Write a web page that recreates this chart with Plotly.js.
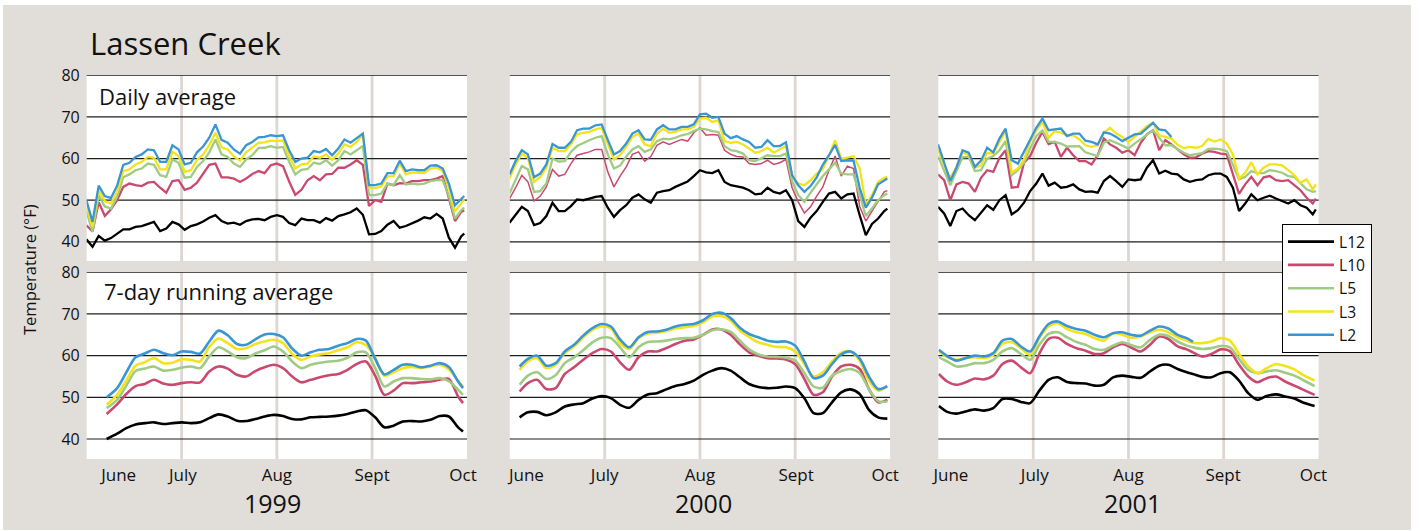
<!DOCTYPE html>
<html><head><meta charset="utf-8">
<script src="https://cdn.plot.ly/plotly-3.0.1.min.js"></script>
<style>
html,body{margin:0;padding:0;background:#fff;}
#wrap{position:relative;width:1422px;height:531px;}
#chart{width:1422px;height:531px;}
.edge{position:absolute;background:#fff;pointer-events:none;z-index:10;}
</style>
</head><body><div id="wrap"><div id="chart"></div>
<div class="edge" style="left:0;top:0;width:1422px;height:5px;"></div>
<div class="edge" style="left:0;top:0;width:3px;height:531px;"></div>
<div class="edge" style="left:1411px;top:0;width:11px;height:531px;"></div>
<div class="edge" style="left:0;top:530px;width:1422px;height:1px;"></div>
</div>
<script>
// ---- categories / labels ----
const seriesNames = ['L12','L10','L5','L3','L2'];
const monthLabels = ['June','July','Aug','Sept','Oct'];
const yearLabels = ['1999','2000','2001'];
const yTicks = [40,50,60,70,80];
// x values are days counted from June 1 (0 = June 1, 30 = July 1, 61 = Aug 1, 92 = Sept 1, 122 = Oct 1)

// ---- Daily average ----
const dailyDays = [-1,1,3,5,7,9,11,13,15,17,19,21,23,25,27,29,31,33,35,37,39,41,43,45,47,49,51,53,55,57,59,61,63,65,67,69,71,73,75,77,79,81,83,85,87,89,91,93,95,97,99,101,103,105,107,109,111,113,115,117,119,121,122];

const d99_L12 = [40.6,38.8,41.4,40.3,40.9,41.9,43,43,43.6,43.8,44.3,44.8,42.6,43.2,44.8,44.2,42.9,43.8,44.2,44.9,45.8,46.4,45,44.4,44.6,44.1,45,45.4,45.5,45.2,46,46.4,46,44.5,44,45.6,45.2,45.2,44.6,45.7,45.1,46.2,46.6,47.1,48,46.5,41.8,41.9,42.6,44.1,45,43.4,43.8,44.4,45.1,45.9,45.6,46.7,45.6,41,38.6,41.3,42];
const d99_L10 = [44,42.5,49.5,46.2,47.8,50,53.2,54,53.6,53.4,54.2,54.4,53,51.8,54.6,54.8,52.5,53,54.2,56.2,58.5,58.8,55.5,55.5,55.2,54.4,55.2,56.3,57,56.5,58.4,58.8,58.2,54.5,51.3,52.5,54.8,55.8,54.8,56.2,56.3,57.8,57.8,58.6,59.6,58.5,48.6,50,49.6,54,53.6,54.1,54,54.6,54.6,54.8,54.8,55.2,55.8,50.5,45,47.2,47.6];
const d99_L5 = [47.4,42.4,51.2,48.5,48,50.8,55.5,56.2,57.2,57.6,58.8,58.5,56,55.6,59.8,59,55.4,55.6,58,59.4,61.5,64.6,61,60.4,58.8,58,59.8,60.8,62.5,62.6,63,62.6,62.8,59.2,56.2,57.3,57.5,59,58.7,59.6,58.3,59.6,61.8,61,62,63,51.2,51.2,51.6,54,53.6,56,53.8,54,53.8,54,54.6,54.8,54.8,51,45.6,47.6,48.2];
const d99_L3 = [48.4,43.6,52.5,49.8,49.2,52,57,57.4,58.6,59.2,60.4,60.2,57.4,57.4,61.6,60.6,56.8,57.2,59.7,61,63.2,66.2,62.7,62.2,60.5,59.5,61.5,62.6,63.8,63.9,64.3,64.2,64.4,60.6,57.6,58.6,58.8,60.5,60.2,61,59.7,61.2,63.4,62.8,64,65.8,53,52.9,53.3,55.7,55.8,58.8,56.2,56.7,56.6,56.5,57.6,57.8,57,53,47.3,49.4,50.2];
const d99_L2 = [50,44.8,53.5,51,50.5,53.5,58.5,59,60.4,61,62.2,62,59.2,59.2,63.2,62.2,58.6,59,61.5,62.9,65,68.2,64.5,63.8,62.2,61.2,63.2,64,65.1,65.2,65.6,65.4,65.6,62,59.2,60,60.2,61.8,61.5,62.3,60.8,62.4,64.6,63.8,64.9,66,53.6,53.6,54,56.5,56.5,59.5,57,57.4,57.2,57.2,58.3,58.4,57.6,54,48.8,50.2,51];

const d00_L12 = [44.6,46.6,48.4,47.4,44,44.5,46.2,49.4,47.4,47.4,48.6,50.2,50,50.4,50.8,51,48.2,46,47.6,48.8,50.6,51.4,50.2,49.4,51.8,52.2,52.4,53.2,53.8,54.5,55.8,57.2,56.7,56.5,57.2,54.4,53.6,53.3,53,52.4,51.4,51.6,53,52,51.6,52.4,50,45,43.6,45.8,47.4,49.6,51.6,52,50.4,51.4,51.6,46.4,41.6,44.3,45.6,47.4,48];
const d00_L10 = [50.4,53,56,54.4,49.8,51,53.2,57.4,55.8,56.2,58.8,60.8,61.2,61.6,62.2,62.2,56.8,53.2,55.8,58,61,61.6,59.4,60.5,63.2,64,63.4,64,64.6,64.2,66.2,67.4,65.6,65.8,65.6,62,61,60.5,60.4,58.8,58.6,58.8,59.6,58.6,59,59.8,53,49.6,46.9,48.4,51,53.2,57.2,60.6,55.8,58.2,57.6,48.5,45,47.4,49.6,52,52.3];
const d00_L5 = [51.6,55,58.2,57.4,52,52.2,54,60,59.3,59.4,61.6,63,63.8,64.4,65,65.4,61,57.6,58.3,60.5,62.2,63,61.6,62.2,64.2,64.8,64.6,65,65.6,65.9,66.6,67.2,67,66.6,66.4,63,62,61.8,61.2,59.6,59.4,60.2,60.8,60.6,60.6,61.2,54.5,51.2,49.6,51.8,53.8,55.8,57.4,59,56.4,56.2,56.2,51.2,46.2,48,50,51.2,51.6];
const d00_L3 = [55.2,58.6,61.2,60.2,54.4,55.6,57.8,62.6,61.8,61.8,63.4,65.8,66.2,66.4,67,67.4,63.6,59.8,60.8,62.8,65.2,66,63.4,63,66,67.2,66.2,66.4,67,67,67.6,69.6,69.8,68.8,69.2,64.2,63.8,64,63.4,62.4,61.4,61.8,62.6,61.4,62.2,63,55.8,54,53.6,54.8,56.4,57.5,60.6,64.4,60,60.2,60.6,57.6,49,51.2,54.4,55.4,55.6];
const d00_L2 = [56.2,59.4,62,61,55.5,56.4,58.6,63.5,62.6,62.6,64,66.8,67.2,67.2,68,68.2,64.5,61,61.8,63.6,66,66.8,64.6,64.5,67,68,67,67,67.6,67.6,68.2,70.6,70.8,69.8,70,66,64.9,65.4,64.6,64,62.6,62.8,64.4,63,63,63.9,56,53.6,52,53.4,55.5,58.5,60.8,63.3,59.4,59.6,59.5,53,48.2,50.6,53.8,54.6,55.2];

const d01_L12 = [48.4,46.8,43.8,47.4,48,46.4,45.2,47,48.8,47.7,50,51.2,46.6,47.6,49.4,52.2,54,56.4,53.5,54.2,53,53.2,53.8,52.6,52,52.1,51.8,54.6,55.8,54.6,53.2,55,54.8,55,57.8,59.6,56.4,57.1,56.4,56.2,55,54.4,54.8,55,56,56.4,56.4,55.6,53,47.4,49.2,51.4,50,50.6,51.1,50.4,49.8,49.2,50,48.8,48.2,46.6,47.8];
const d01_L10 = [56.2,54.8,50,53.8,54.4,54,52,55.4,57.2,56.8,60.2,62,53,53.2,59,60.6,63.8,66.4,63.5,64,60.4,62.6,60.8,59.4,59.4,58.6,60.8,64.8,63.4,62.6,61.4,62,60.8,63.8,65.8,66.8,62,64.4,63.4,62.1,61,60.2,60.3,61.2,61.8,61.6,61.2,61,56,51.5,53.8,55.6,53.6,55.5,55.8,54.8,54.6,54.8,53.6,52.4,50.6,49.2,50.4];
const d01_L5 = [60.6,57,53.6,57,60.3,60.4,57,57.2,60,60.6,62,64.2,56,57.2,59,62.4,65.4,66.8,64,64,63.6,62.9,63,63,61.5,61,60.6,63.8,64.4,63.8,63,62.4,63.6,64.6,65.6,66.8,65,63.2,63.2,62.2,61.4,60.8,61,61.3,62.3,62.4,62.2,61.8,58.5,55,55.6,57,56.5,56.5,57.2,57,56.6,55.8,55.6,54.2,52.6,52,52.2];
const d01_L3 = [62.2,58.4,55.4,58,61.5,60.8,57.8,58.4,61.4,61.2,64,66.6,56.6,57.6,59.8,64,66.8,68.8,65,66.6,66.2,65.6,65.6,64.6,63.2,62.8,63.2,66.2,67.4,66,65.2,64,65.2,66.6,67.8,68.6,65.6,65.2,64.8,63.3,62.5,62.8,62.6,63,64.7,64.1,64.6,63.6,61,55.2,56.6,59.1,56.2,57.8,58.6,58.6,58.4,57.2,56,54.2,55,52.6,53.8];
const d01_L2 = [63.5,58.8,54.6,57.8,62,61.4,58,59.5,62.6,61.5,64.8,67.2,59.6,58.8,61.8,64.8,67.4,69.6,66.8,67,67.2,65.4,66,66,64.3,64,63.4,66.3,66,65.2,64.2,65,65.8,66,67.2,68.6,67,66.8,65.2];

// ---- 7-day running average ----
const runDays99 = [5.6,9,12,15,18,21,24,27,30,33,36,39,42,45,48,51,54,57,60,63,66,69,72,75,78,81,84,87,90,93,96,99,102,105,108,111,114,117,120,121.6];
const r99_L12 = [40,41.3,42.6,43.5,43.8,44,43.6,43.8,44,43.8,44,45,45.9,45.4,44.4,44.3,44.8,45.4,45.8,45.5,44.8,44.7,45.2,45.3,45.4,45.6,46,46.6,46.9,45.2,42.8,43.2,44.2,44.3,44.2,44.6,45.5,45.4,42.8,41.8];
const r99_L10 = [46,48.3,50.8,52.7,53.2,54.2,53.3,53,53.4,53.6,53.6,56.2,57.4,56.9,55.4,55,56.3,57.2,57.8,57,55,53.6,54.2,54.8,55.3,55.6,56.6,58,58.6,55.2,50.6,51.6,53.4,53.4,53.6,53.8,54.2,54.4,50.2,48.6];
const r99_L5 = [47.4,49.4,52.8,56.3,56.9,57.4,56.4,56.6,57.1,57.4,57,59.8,62,61,59.6,59.4,60.5,61.3,62.2,61,58.6,57,57.8,58.3,58.6,58.8,59.5,60.8,60.8,57,52.6,53.8,54.6,54.6,54.4,54.3,54.6,53.9,51.8,50.6];
const r99_L3 = [48.2,50.6,54,57.6,58.4,59.4,58.2,58.3,59.1,59,58.6,62.1,64.1,63,61.6,61.8,62.8,63.4,63.8,63,60.4,59,59.8,60.3,60.6,61.3,62,63.2,62.5,59.5,55.2,56,57,57.3,57,57.4,57.8,56.7,54,52.6];
const r99_L2 = [50,52.2,56,59.6,60.5,61.4,60.6,60.1,61,60.9,60.5,63.4,66,64.9,62.8,62.6,63.9,65.1,65.2,64.4,61.7,60,60.8,61.4,61.6,62.4,63,64,63.6,59.2,55.5,56.6,57.8,57.8,57.2,57.6,58.2,57.3,53.8,52.2];

const runDays00 = [2.3,5,8,11,14,17,20,23,26,29,32,35,38,41,44,47,50,53,56,59,62,65,68,71,74,77,80,83,86,89,92,95,98,101,104,107,110,113,116,119,122];
const r00_L12 = [45.2,46.4,46.5,45.7,46.4,47.8,48.3,48.6,49.7,50.3,49.8,48.2,47.5,49.4,50.7,51,51.9,52.7,53.2,54,55.4,56.4,57,56.4,54.8,53.2,52.5,52.2,52.3,52.6,52.2,49.8,46.2,46.2,48.8,51.2,51.9,50.8,47,45.2,44.9];
const r00_L10 = [51.4,53.4,54.2,52,52.2,55.6,57.2,59,60.6,61.6,61,58.4,56.6,59.6,61,61,61.8,62.8,63.6,63.9,65,66.3,66.3,65,62.7,60.8,60,59.4,59.3,59.1,58,54.4,50.6,51.2,55,57.4,57.8,56.8,52,48.8,49.4];
const r00_L5 = [53,55.2,56,54.4,55.3,58.2,59.6,61.3,63.2,64.3,64.2,62,59.6,62,63.3,63.4,63.6,64,64.2,64.3,65,66.1,66.3,65.7,63.6,61.5,60.3,59.8,59.7,59.5,58.8,55.8,52.6,52.3,55.2,56.3,56.8,55.8,52,49.1,49];
const r00_L3 = [56.6,58.6,59.4,57,57.8,60.6,62.2,64.4,66.2,67,66.6,63,61.6,64.2,65.3,65.5,65.9,66.5,66.8,67.1,68,69.4,69.5,68.4,66,64.5,63.2,62.6,62.1,62,61,58,55,56,58.6,60.7,61,58.8,54,51.6,52.6];
const r00_L2 = [57.4,59.2,60,57.6,58.2,61,62.6,64.8,66.6,67.6,67,63.9,62,64.4,65.7,65.8,66.2,67,67.4,67.6,68.5,70,70.3,69,66.7,65.2,64.4,63.6,63.3,63.4,62.4,58.6,54.6,55.2,58,60.3,61,59.3,55,52,52.7];

const runDays01 = [-0.7,2,5,8,11,14,17,20,23,26,29,32,35,38,41,44,47,50,53,56,59,62,65,68,71,74,77,80,82,85,88,91,94,97,100,103,106,109,112,115,118,121.6];
const r01_L12 = [47.9,46.5,46.1,46.6,47.1,46.8,47.4,49.6,49.6,48.9,48.6,51.6,54.2,54.8,53.7,53.4,53.3,52.8,53,54.8,55.2,54.9,54.7,56.2,57.6,57.8,56.8,56,55.6,54.9,54.8,55.8,56,54,51,49.4,50.3,50.7,50.2,49.7,48.7,47.9];
const r01_L10 = [55.6,53.8,53,53.6,54.5,54.3,55.2,58,58.8,57.2,55.8,60.5,64,64.3,62.8,61.8,61.2,60.4,60.6,62,62.8,61.9,61,62.6,64.6,64,62.2,61.5,60.8,59.8,60.4,61.5,61.1,57.8,55,53.6,54.6,55,53.8,52.8,51.8,50.6];
const r01_L5 = [59.6,58.6,57.4,57.6,58.2,58.2,59,61,61.8,60.4,59,62.6,65.2,65.6,64.4,63.3,62.6,61.6,61.4,62.4,63.2,62.5,62,63.8,65,64.7,63.4,62.4,62,61.6,61.8,62.3,62,59.2,56.6,55.8,56.2,56.5,55.9,55.2,54.1,52.7];
const r01_L3 = [61,59.7,59,59.4,59.6,59.4,60.2,62.8,63.2,61.8,60.2,64.2,67,67.8,66.4,65.6,65.2,64.2,63.6,65.4,65,64.3,64.6,65.6,66.2,65.6,64.4,63.6,63.1,63,63.4,64.2,63.6,60.4,57.4,55.8,57,58,57.5,56.7,55.3,54];
const r01_L2 = [61.4,59.9,58.8,59.4,60,59.8,60.6,63.6,64,62.2,61,64.6,67.6,68.2,67.1,66.4,66,65,64.4,65.4,65.6,65,64.8,66,67,66.5,65,64.2,63.3];

// ---- styling (not data) ----
const colors = ['#000000','#c94a6e','#9fcb82','#f3e31c','#3a95d5'];
const FONT = 'Open Sans, Noto Sans, sans-serif';
const W = 1422, H = 531;
const xDom = [[86.7,467],[509.8,890.1],[938.3,1318.6]];
const yDomTop = [75.3,261], yDomBot = [272.3,459];
const monthTickPos = [[9.5,30.4,61,92,121.6],[4.5,30,61,92.3,121.3],[3.2,30.5,61,91.8,121.2]];
const monthLines = [30,61,92];

const panels = [
  {days: dailyDays, data:[d99_L12,d99_L10,d99_L5,d99_L3,d99_L2], row:0, col:0, spline:false},
  {days: dailyDays, data:[d00_L12,d00_L10,d00_L5,d00_L3,d00_L2], row:0, col:1, spline:false, thinRed:true},
  {days: dailyDays, data:[d01_L12,d01_L10,d01_L5,d01_L3,d01_L2], row:0, col:2, spline:false},
  {days: runDays99, data:[r99_L12,r99_L10,r99_L5,r99_L3,r99_L2], row:1, col:0, spline:true},
  {days: runDays00, data:[r00_L12,r00_L10,r00_L5,r00_L3,r00_L2], row:1, col:1, spline:true},
  {days: runDays01, data:[r01_L12,r01_L10,r01_L5,r01_L3,r01_L2], row:1, col:2, spline:true}
];

const traces = [];
const layout = {
  width: W, height: H, autosize: false,
  margin: {l:0, r:0, t:0, b:0, pad:0},
  paper_bgcolor: '#e1ddd9', plot_bgcolor: '#ffffff',
  font: {family: FONT, color: '#111'},
  showlegend: true,
  legend: {x: 1282/W, y: 1-224/H, xanchor:'left', yanchor:'top', bgcolor:'#ffffff', bordercolor:'#000', borderwidth:1,
           font:{size:15.6, family:FONT, color:'#111'}, tracegroupgap:0, itemwidth:46},
  shapes: [],
  annotations: []
};

panels.forEach((p, i) => {
  const n = i + 1;
  const xa = n === 1 ? 'x' : 'x' + n, ya = n === 1 ? 'y' : 'y' + n;
  const yd = p.row === 0 ? yDomTop : yDomBot;
  layout[n === 1 ? 'xaxis' : 'xaxis' + n] = {
    domain: [xDom[p.col][0]/W, xDom[p.col][1]/W], anchor: ya,
    range: [-0.9, 122.9], showgrid:false, zeroline:false, showline:false, ticks:'',
    showticklabels: p.row === 1, tickmode:'array', tickvals: monthTickPos[p.col], ticktext: monthLabels,
    tickfont:{size:17, family:FONT, color:'#111'}, ticklabelstandoff: 4, fixedrange:true
  };
  layout[n === 1 ? 'yaxis' : 'yaxis' + n] = {
    domain: [1 - yd[1]/H, 1 - yd[0]/H], anchor: xa,
    range: p.row === 0 ? [35.4, 80] : [35.2, 80], showgrid:false, zeroline:false, showline:false, ticks:'',
    showticklabels: p.col === 0, tickmode:'array', tickvals: yTicks,
    tickfont:{size:16, family:FONT, color:'#111'}, ticklabelstandoff: 6, fixedrange:true
  };
  monthLines.forEach(d => layout.shapes.push({type:'line', xref:xa, yref:ya+' domain', x0:d, x1:d, y0:0, y1:1,
    line:{color:'#dcd7d2', width:2.8}, layer:'below'}));
  yTicks.forEach(v => layout.shapes.push({type:'line', xref:xa+' domain', yref:ya, x0:0, x1:1, y0:v, y1:v,
    line:{color:'#1e1e1e', width:1.2}, layer:'below'}));
  p.data.forEach((vals, k) => {
    let w = p.row === 0 ? 2.3 : 2.6;
    if (p.thinRed && k === 1) w = 1.5;
    traces.push({
      type:'scatter', mode:'lines', x: p.days, y: vals, xaxis: xa, yaxis: ya,
      name: seriesNames[k], showlegend: i === 3, legendrank: k,
      line: {color: colors[k], width: w, shape: p.spline ? 'spline' : 'linear', smoothing: 0.8},
      hoverinfo:'skip'
    });
  });
});

layout.annotations.push(
  {xref:'paper', yref:'paper', x:87.5/W, y:1-42.8/H, xanchor:'left', yanchor:'middle', showarrow:false,
   text:'Lassen Creek', font:{size:31, family:FONT, color:'#111'}},
  {xref:'paper', yref:'paper', x:97/W, y:1-95.8/H, xanchor:'left', yanchor:'middle', showarrow:false,
   text:'Daily average', font:{size:22, family:FONT, color:'#111'}},
  {xref:'paper', yref:'paper', x:102/W, y:1-291.3/H, xanchor:'left', yanchor:'middle', showarrow:false,
   text:'7-day running average', font:{size:22, family:FONT, color:'#111'}},
  {xref:'paper', yref:'paper', x:29/W, y:1-270/H, xanchor:'center', yanchor:'middle', showarrow:false, textangle:-90,
   text:'Temperature (°F)', font:{size:16.5, family:FONT, color:'#111'}}
);
const yearX = [272, 703, 1132];
yearLabels.forEach((t, j) => layout.annotations.push({xref:'paper', yref:'paper', x:yearX[j]/W, y:1-502.7/H,
  xanchor:'center', yanchor:'middle', showarrow:false, text:t, font:{size:25, family:FONT, color:'#111'}}));

Plotly.newPlot('chart', traces, layout, {staticPlot:true, displayModeBar:false});
</script></body></html>
